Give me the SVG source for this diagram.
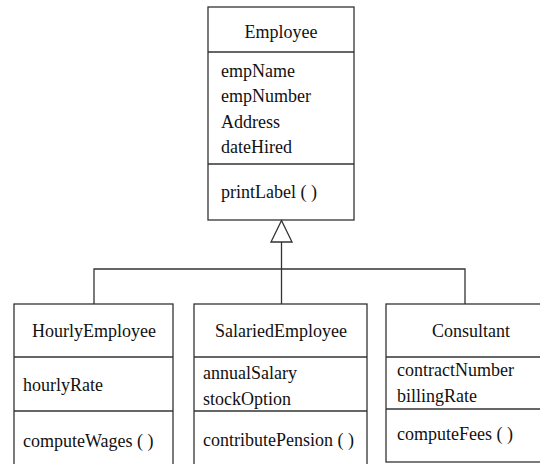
<svg xmlns="http://www.w3.org/2000/svg" width="540" height="464" viewBox="0 0 540 464">
<style>
.box{fill:#fff;stroke:#333;stroke-width:1.3}
.ln{fill:none;stroke:#333;stroke-width:1.3}
text{font-family:"Liberation Serif","Times New Roman",serif;font-size:18px;fill:#111}
.c{text-anchor:middle}
</style>
<rect x="0" y="0" width="540" height="464" fill="#fff"/>
<g id="Employee">
<rect class="box" x="208" y="7" width="146" height="213"/>
<line class="ln" x1="208" y1="52" x2="354" y2="52"/>
<line class="ln" x1="208" y1="164" x2="354" y2="164"/>
<text class="c" x="281" y="38">Employee</text>
<text x="221" y="77">empName</text>
<text x="221" y="102">empNumber</text>
<text x="221" y="128">Address</text>
<text x="221" y="153">dateHired</text>
<text x="221" y="198">printLabel ( )</text>
</g>
<g id="HourlyEmployee">
<rect class="box" x="14" y="304" width="159" height="170"/>
<line class="ln" x1="14" y1="357" x2="173" y2="357"/>
<line class="ln" x1="14" y1="411" x2="173" y2="411"/>
<text class="c" x="94" y="337">HourlyEmployee</text>
<text x="23" y="391">hourlyRate</text>
<text x="23" y="447">computeWages ( )</text>
</g>
<g id="SalariedEmployee">
<rect class="box" x="194" y="304" width="173" height="170"/>
<line class="ln" x1="194" y1="357" x2="367" y2="357"/>
<line class="ln" x1="194" y1="411" x2="367" y2="411"/>
<text class="c" x="281" y="337">SalariedEmployee</text>
<text x="203" y="379">annualSalary</text>
<text x="203" y="405">stockOption</text>
<text x="203" y="446">contributePension ( )</text>
</g>
<g id="Consultant">
<rect class="box" x="386" y="304" width="170" height="158"/>
<line class="ln" x1="386" y1="357" x2="556" y2="357"/>
<line class="ln" x1="386" y1="409" x2="556" y2="409"/>
<text class="c" x="471" y="337">Consultant</text>
<text x="397" y="376">contractNumber</text>
<text x="397" y="402">billingRate</text>
<text x="397" y="440">computeFees ( )</text>
</g>
<g id="connectors">
<polygon class="ln" points="281.5,220.5 271,242 292,242" style="fill:#fff"/>
<line class="ln" x1="281.5" y1="242" x2="281.5" y2="304"/>
<polyline class="ln" points="94,304 94,269 465,269 465,304"/>
</g>
</svg>
